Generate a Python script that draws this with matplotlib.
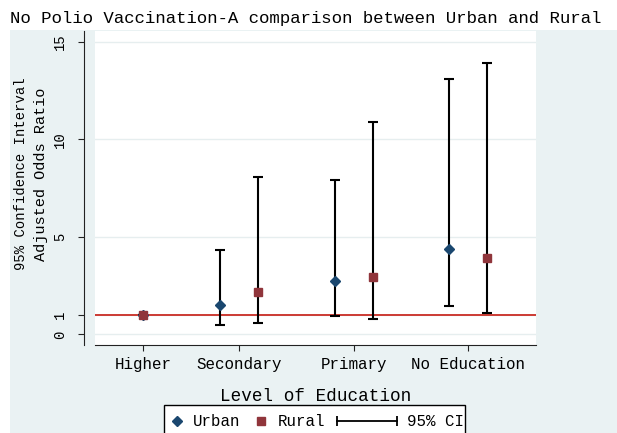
import numpy as np
import matplotlib
matplotlib.use('Agg')
import matplotlib.pyplot as plt
from matplotlib.lines import Line2D
from matplotlib.patches import Rectangle

# data (adjusted odds ratios with 95% CI)
categories = ['Higher', 'Secondary', 'Primary', 'No Education']
cat_pos = [1.16, 2, 3, 4]
pair_offset = [0, 0.166, 0.166, 0.166]

urban_or = [1.0, 1.51, 2.74, 4.39]
urban_lo = [1.0, 0.50, 0.93, 1.48]
urban_hi = [1.0, 4.33, 7.90, 13.10]

rural_or = [1.0, 2.18, 2.96, 3.93]
rural_lo = [1.0, 0.57, 0.79, 1.08]
rural_hi = [1.0, 8.06, 10.88, 13.90]

yticks = [0, 1, 5, 10, 15]
ref_line = 1

navy = '#1a476f'
maroon = '#90353b'
red = '#cc3b33'
bg = '#eaf2f3'
mono = 'Liberation Mono'

plt.rcParams['font.family'] = mono

W, H = 617, 433
fig = plt.figure(figsize=(W / 100, H / 100), dpi=100)
fig.patch.set_facecolor('white')

# light outer region like the stata scheme
fig.patches.append(Rectangle((10 / W, 0), 1 - 10 / W, 1 - 30 / H, transform=fig.transFigure,
                             facecolor=bg, edgecolor='none', zorder=-10))

ax = fig.add_axes([95 / W, 1 - 345 / H, (536 - 95) / W, (345 - 31) / H])
ax.set_facecolor('white')

cat_pos = np.asarray(cat_pos)
pair_offset = np.asarray(pair_offset)
x_urban = cat_pos - pair_offset
x_rural = cat_pos + pair_offset

urban_or = np.asarray(urban_or)
rural_or = np.asarray(rural_or)

ax.axhline(ref_line, color=red, lw=1.4, zorder=1)

ax.errorbar(x_urban, urban_or, yerr=[urban_or - np.asarray(urban_lo), np.asarray(urban_hi) - urban_or],
            fmt='none', ecolor='black', elinewidth=1.5, capsize=3.3, capthick=1.5, zorder=2)
ax.errorbar(x_rural, rural_or, yerr=[rural_or - np.asarray(rural_lo), np.asarray(rural_hi) - rural_or],
            fmt='none', ecolor='black', elinewidth=1.5, capsize=3.3, capthick=1.5, zorder=2)

ax.plot(x_urban, urban_or, linestyle='none', marker='D', markersize=5.6, color=navy, zorder=3)
ax.plot(x_rural, rural_or, linestyle='none', marker='s', markersize=5.8, color=maroon, zorder=4)

ax.set_xlim(0.742, 4.594)
ax.set_ylim(-0.54, 15.54)

ax.set_yticks(yticks)
ax.set_yticklabels([str(t) for t in yticks], fontsize=10.5)
ax.set_xticks(cat_pos)
ax.set_xticklabels(categories, fontsize=11.4)

ax.grid(axis='y', color='#e6eeef', lw=1.0, zorder=0)
ax.set_axisbelow(True)

for side in ['top', 'right']:
    ax.spines[side].set_visible(False)
ax.spines['left'].set_position(('outward', 7.9))
ax.spines['left'].set_color('#222222')
ax.spines['bottom'].set_color('#222222')
ax.tick_params(axis='y', length=4.3, pad=8, color='#222222', labelrotation=90)
ax.tick_params(axis='x', length=4.5, pad=4, color='#222222')
for lab in ax.get_yticklabels():
    lab.set_rotation(90)
    lab.set_verticalalignment('center')

ax.set_xlabel('Level of Education', fontsize=12.7, labelpad=12)
ax.text(-0.168, 0.545, '95% Confidence Interval', transform=ax.transAxes, rotation=90,
        ha='center', va='center', fontsize=10)
ax.text(-0.123, 0.545, 'Adjusted Odds Ratio', transform=ax.transAxes, rotation=90,
        ha='center', va='center', fontsize=11)

fig.text(10 / W, 1 - 19 / H, 'No Polio Vaccination-A comparison between Urban and Rural',
         ha='left', va='center', fontsize=12.55)

# legend box, drawn by hand since its bottom runs off the canvas
def fx(px):
    return px / W

def fy(py):
    return 1 - py / H

fig.patches.append(Rectangle((fx(164), fy(440)), fx(465) - fx(164), fy(405) - fy(440),
                             transform=fig.transFigure, facecolor='white', edgecolor='black',
                             lw=1.0, zorder=5))
leg_y = fy(421)
fig.add_artist(Line2D([fx(177)], [leg_y], marker='D', markersize=5.6, color=navy,
                      linestyle='none', transform=fig.transFigure, zorder=6))
fig.text(fx(193), leg_y, 'Urban', ha='left', va='center', fontsize=11.3, zorder=6)
fig.add_artist(Line2D([fx(261)], [leg_y], marker='s', markersize=5.8, color=maroon,
                      linestyle='none', transform=fig.transFigure, zorder=6))
fig.text(fx(278), leg_y, 'Rural', ha='left', va='center', fontsize=11.3, zorder=6)
fig.add_artist(Line2D([fx(337), fx(397)], [leg_y, leg_y], color='black', lw=1.3,
                      marker='|', markersize=7, markeredgewidth=1.3,
                      transform=fig.transFigure, zorder=6))
fig.text(fx(407), leg_y, '95% CI', ha='left', va='center', fontsize=11.3, zorder=6)

fig.savefig('out.png', dpi=100)
